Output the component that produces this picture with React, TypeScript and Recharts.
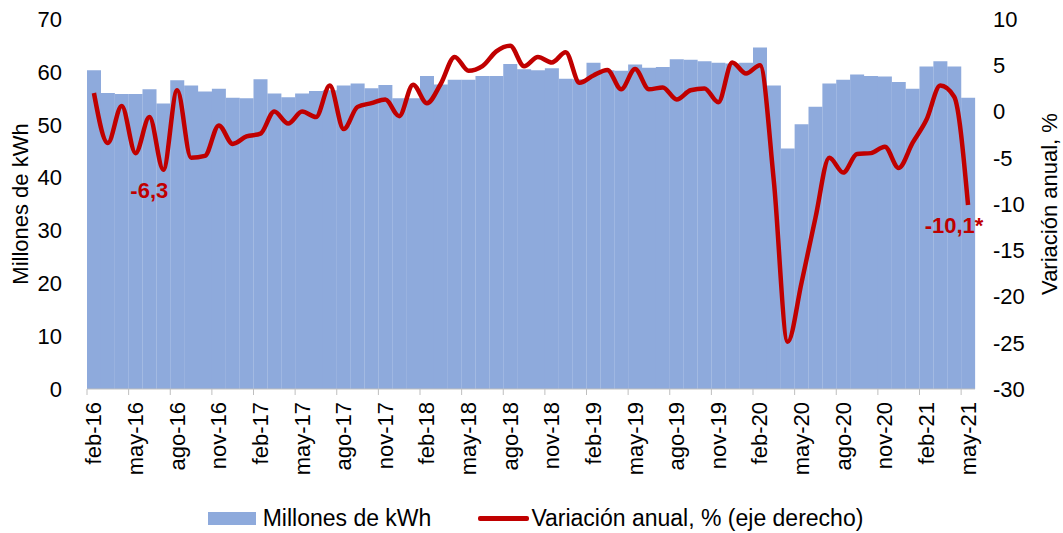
import React from 'react';
import {
  ComposedChart,
  Bar,
  Line,
  XAxis,
  YAxis,
  Legend,
  Label,
  LabelList,
} from 'recharts';

// ---- data ----
const months = [
  'feb-16', 'mar-16', 'abr-16', 'may-16', 'jun-16', 'jul-16', 'ago-16', 'sep-16', 'oct-16', 'nov-16', 'dic-16',
  'ene-17', 'feb-17', 'mar-17', 'abr-17', 'may-17', 'jun-17', 'jul-17', 'ago-17', 'sep-17', 'oct-17', 'nov-17', 'dic-17',
  'ene-18', 'feb-18', 'mar-18', 'abr-18', 'may-18', 'jun-18', 'jul-18', 'ago-18', 'sep-18', 'oct-18', 'nov-18', 'dic-18',
  'ene-19', 'feb-19', 'mar-19', 'abr-19', 'may-19', 'jun-19', 'jul-19', 'ago-19', 'sep-19', 'oct-19', 'nov-19', 'dic-19',
  'ene-20', 'feb-20', 'mar-20', 'abr-20', 'may-20', 'jun-20', 'jul-20', 'ago-20', 'sep-20', 'oct-20', 'nov-20', 'dic-20',
  'ene-21', 'feb-21', 'mar-21', 'abr-21', 'may-21',
];

const kwh = [
  60.3, 56.0, 55.8, 55.8, 56.7, 54.0, 58.4, 57.4, 56.3, 56.8, 55.1,
  55.0, 58.6, 55.9, 55.2, 55.9, 56.4, 56.5, 57.4, 57.8, 56.9, 57.5, 55.0,
  55.0, 59.2, 57.6, 58.5, 58.5, 59.2, 59.2, 61.5, 60.5, 60.3, 60.7, 58.7,
  58.6, 61.7, 60.3, 60.2, 61.4, 60.8, 60.9, 62.4, 62.3, 62.0, 61.7, 61.6,
  61.7, 64.6, 57.4, 45.5, 50.1, 53.4, 57.8, 58.5, 59.5, 59.2, 59.1, 58.1,
  56.8, 61.0, 62.0, 61.0, 55.1,
];

const variation = [
  2.0, -3.4, 0.6, -4.5, -0.6, -6.3, 2.3, -5.0, -4.8, -1.5, -3.5,
  -2.7, -2.4, 0.0, -1.3, 0.0, -0.6, 2.8, -1.9, 0.5, 0.9, 1.3, -0.5,
  2.9, 0.9, 3.0, 5.9, 4.4, 4.9, 6.5, 7.1, 4.9, 5.9, 5.3, 6.4,
  3.1, 3.9, 4.5, 2.4, 4.6, 2.4, 2.6, 1.3, 2.3, 2.5, 1.0, 5.3,
  4.1, 5.0, -7.5, -24.9, -18.5, -11.5, -5.0, -6.6, -4.6, -4.5, -3.8, -6.1,
  -3.4, -0.9, 2.8, 1.6, -10.1,
];

const notes: Record<string, string> = { 'jul-16': '-6,3', 'may-21': '-10,1*' };

const leftTicks = [0, 10, 20, 30, 40, 50, 60, 70];
const rightTicks = [-30, -25, -20, -15, -10, -5, 0, 5, 10];

const data = months.map((m, i) => ({
  month: m,
  kwh: kwh[i],
  variation: variation[i],
  note: notes[m] ?? '',
}));

// ---- styling ----
const FONT = '"Liberation Sans", Arial, sans-serif';
const BAR_COLOR = '#8EAADC';
const LINE_COLOR = '#C00000';
const WIDTH = 1063;
const HEIGHT = 533;
const LEFT_W = 87;
const RIGHT_W = 88;
const BAND = (WIDTH - LEFT_W - RIGHT_W) / months.length;

const MonthTick = ({ x, y, payload }: any) => (
  <g>
    <line x1={x - BAND / 2} x2={x - BAND / 2} y1={y} y2={y + 6} stroke="#BFBFBF" strokeWidth={1} />
    <text
      x={x}
      y={y + 13}
      transform={`rotate(-90 ${x} ${y + 13})`}
      textAnchor="end"
      dominantBaseline="central"
      fontFamily={FONT}
      fontSize={22}
      fill="#000"
    >
      {payload.value}
    </text>
  </g>
);

const AxisTitle = ({ viewBox, value, dx }: any) => {
  const cx = viewBox.x + dx;
  const cy = viewBox.y + viewBox.height / 2;
  return (
    <text
      x={cx}
      y={cy}
      transform={`rotate(-90 ${cx} ${cy})`}
      textAnchor="middle"
      dominantBaseline="central"
      fontFamily={FONT}
      fontSize={22}
      fill="#000"
    >
      {value}
    </text>
  );
};

const NoteLabel = ({ x, y, value }: any) => {
  if (!value) return null;
  return (
    <text x={x - 14} y={y + 28} textAnchor="middle" fontFamily={FONT} fontSize={22} fontWeight="bold" fill={LINE_COLOR}>
      {value}
    </text>
  );
};

const LegendContent = ({ payload }: any) => (
  <div
    style={{
      display: 'flex',
      justifyContent: 'center',
      alignItems: 'center',
      height: 30,
      paddingLeft: 8,
      fontFamily: FONT,
      fontSize: 23,
      color: '#000',
    }}
  >
    {(payload || []).map((entry: any, i: number) => (
      <div key={i} style={{ display: 'flex', alignItems: 'center', marginLeft: i === 0 ? 0 : 47 }}>
        {entry.type === 'line' ? (
          <span style={{ display: 'inline-block', width: 51, height: 5, borderRadius: 2, background: LINE_COLOR, marginRight: 2 }} />
        ) : (
          <span style={{ display: 'inline-block', width: 48, height: 13, background: BAR_COLOR, marginRight: 7 }} />
        )}
        <span>{entry.value}</span>
      </div>
    ))}
  </div>
);

export default function App() {
  return (
    <div style={{ position: 'fixed', left: 0, top: 0, width: WIDTH, height: HEIGHT, background: '#fff' }}>
      <ComposedChart
        width={WIDTH}
        height={HEIGHT}
        data={data}
        margin={{ top: 19, right: 0, left: 0, bottom: 0 }}
        barCategoryGap={0}
        barGap={0}
      >
        <XAxis
          dataKey="month"
          interval={2}
          height={114}
          tickLine={false}
          tickSize={0}
          tickMargin={0}
          axisLine={{ stroke: '#BFBFBF' }}
          tick={<MonthTick />}
        />
        <YAxis
          yAxisId="left"
          orientation="left"
          width={LEFT_W}
          domain={[0, 70]}
          ticks={leftTicks}
          axisLine={false}
          tickLine={false}
          tickSize={0}
          tickMargin={25}
          tick={{ fontFamily: FONT, fontSize: 22, fill: '#000' }}
        >
          <Label content={<AxisTitle value="Millones de kWh" dx={20} />} />
        </YAxis>
        <YAxis
          yAxisId="right"
          orientation="right"
          width={RIGHT_W}
          domain={[-30, 10]}
          ticks={rightTicks}
          axisLine={false}
          tickLine={false}
          tickSize={0}
          tickMargin={18}
          tick={{ fontFamily: FONT, fontSize: 22, fill: '#000', textAnchor: 'start' }}
        >
          <Label content={<AxisTitle value="Variación anual, %" dx={74} />} />
        </YAxis>
        <Legend verticalAlign="bottom" height={30} content={<LegendContent />} />
        <Bar
          yAxisId="left"
          dataKey="kwh"
          name="Millones de kWh"
          fill={BAR_COLOR}
          legendType="rect"
          isAnimationActive={false}
        />
        <Line
          yAxisId="right"
          dataKey="variation"
          name="Variación anual, % (eje derecho)"
          type="monotone"
          stroke={LINE_COLOR}
          strokeWidth={4.5}
          dot={false}
          activeDot={false}
          legendType="line"
          isAnimationActive={false}
        >
          <LabelList dataKey="note" content={<NoteLabel />} />
        </Line>
      </ComposedChart>
    </div>
  );
}
